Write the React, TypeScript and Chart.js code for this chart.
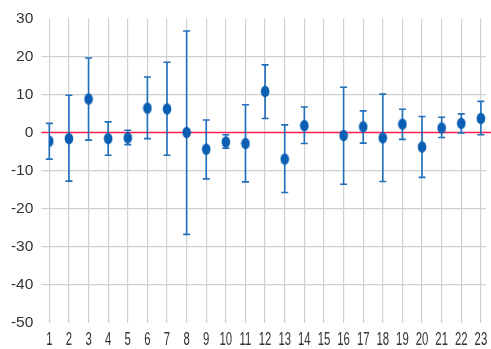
import React, { useEffect, useRef } from "react";
import { Chart, registerables } from "chart.js";

Chart.register(...registerables);

const categories = [1, 2, 3, 4, 5, 6, 7, 8, 9, 10, 11, 12, 13, 14, 15, 16, 17, 18, 19, 20, 21, 22, 23];
const means = [-2.3, -1.6, 8.8, -1.6, -1.4, 6.4, 6.2, 0, -4.4, -2.5, -2.9, 10.8, -7.0, 1.8, null, -0.8, 1.5, -1.4, 2.2, -3.8, 1.2, 2.4, 3.7];
const upper = [2.4, 9.8, 19.6, 2.8, 0.6, 14.6, 18.5, 26.7, 3.3, -0.6, 7.3, 17.8, 2.0, 6.7, null, 11.9, 5.7, 10.1, 6.1, 4.2, 4.0, 4.9, 8.2];
const lower = [-7.0, -12.8, -2.0, -6.0, -3.2, -1.6, -6.0, -26.8, -12.2, -4.1, -13.0, 3.7, -15.8, -2.9, null, -13.6, -2.8, -12.9, -1.8, -11.8, -1.3, -0.1, -0.6];
const yTicks = [-50, -40, -30, -20, -10, 0, 10, 20, 30];

const FONT = "'Liberation Sans', Arial, sans-serif";
const POINT_COLOR = "#0a5fb3";
const BAR_COLOR = "#1f6fbb";
const GRID = "#d0d0d0";
const RED = "#ff1f4f";
const TEXT = "#333333";

function makeEllipse(): HTMLCanvasElement {
  const c = document.createElement("canvas");
  c.width = 10;
  c.height = 13;
  const g = c.getContext("2d")!;
  g.fillStyle = POINT_COLOR;
  g.beginPath();
  g.ellipse(5, 6.5, 4.3, 5.7, 0, 0, Math.PI * 2);
  g.fill();
  return c;
}

const errorBarPlugin = {
  id: "errorBars",
  beforeDatasetsDraw(chart: any) {
    const { ctx, chartArea, scales } = chart;
    const x = scales.x;
    const y = scales.y;
    ctx.save();
    const y0 = y.getPixelForValue(0);
    ctx.strokeStyle = RED;
    ctx.lineWidth = 1.5;
    ctx.beginPath();
    ctx.moveTo(chartArea.left - 8, y0);
    ctx.lineTo(chart.width, y0);
    ctx.stroke();
    ctx.strokeStyle = BAR_COLOR;
    ctx.lineWidth = 1.6;
    categories.forEach((c, i) => {
      const hi = upper[i];
      const lo = lower[i];
      if (hi == null || lo == null) return;
      const px = x.getPixelForValue(c);
      const ph = y.getPixelForValue(hi);
      const pl = y.getPixelForValue(lo);
      ctx.beginPath();
      ctx.moveTo(px, ph);
      ctx.lineTo(px, pl);
      ctx.moveTo(px - 3.5, ph);
      ctx.lineTo(px + 3.5, ph);
      ctx.moveTo(px - 3.5, pl);
      ctx.lineTo(px + 3.5, pl);
      ctx.stroke();
    });
    ctx.restore();
  },
  afterDraw(chart: any) {
    const { ctx, scales, chartArea } = chart;
    const x = scales.x;
    ctx.save();
    ctx.fillStyle = TEXT;
    ctx.font = `18px ${FONT}`;
    ctx.textAlign = "center";
    ctx.textBaseline = "middle";
    x.ticks.forEach((t: any) => {
      const px = x.getPixelForValue(t.value);
      ctx.save();
      ctx.translate(px, chartArea.bottom + 17.5);
      ctx.scale(0.63, 1);
      ctx.fillText(String(t.value), 0, 0);
      ctx.restore();
    });
    ctx.restore();
  },
};

export default function App() {
  const ref = useRef<HTMLCanvasElement>(null);
  useEffect(() => {
    if (!ref.current) return;
    const ellipse = makeEllipse();
    const data = categories
      .map((c, i) => ({ x: c, y: means[i] }))
      .filter((d) => d.y != null);
    const chart = new Chart(ref.current, {
      type: "scatter",
      data: {
        datasets: [
          {
            data: data as any,
            pointStyle: ellipse as any,
            backgroundColor: POINT_COLOR,
            borderColor: POINT_COLOR,
          },
        ],
      },
      options: {
        animation: false,
        responsive: true,
        maintainAspectRatio: false,
        layout: { padding: { top: 18.5, right: 0, left: 0, bottom: 26.5 } },
        plugins: { legend: { display: false }, tooltip: { enabled: false } },
        scales: {
          x: {
            type: "linear",
            min: 1,
            max: 23.26,
            border: { display: false },
            grid: { color: GRID, lineWidth: 1.2, drawTicks: false },
            ticks: {
              display: false,
              stepSize: 1,
              includeBounds: false,
              autoSkip: false,
            },
          },
          y: {
            type: "linear",
            min: yTicks[0],
            max: yTicks[yTicks.length - 1],
            border: { display: false },
            afterFit: (s: any) => {
              s.width = 49.3;
            },
            grid: {
              lineWidth: 1.2,
              tickLength: 8,
              color: (ctx: any) => {
                const v = ctx.tick && ctx.tick.value;
                if (v === 30 || v === -50 || v === 0) return "rgba(0,0,0,0)";
                return GRID;
              },
            },
            ticks: {
              stepSize: 10,
              padding: 8,
              color: TEXT,
              font: { family: FONT, size: 15.5 },
            },
          },
        },
      },
      plugins: [errorBarPlugin],
    });
    return () => chart.destroy();
  }, []);
  return (
    <div style={{ position: "absolute", left: 0, top: 0, width: 491, height: 349 }}>
      <canvas ref={ref} />
    </div>
  );
}
